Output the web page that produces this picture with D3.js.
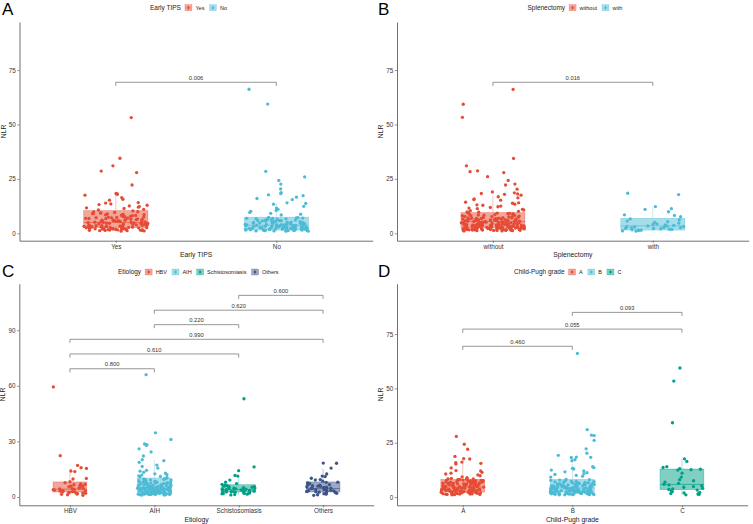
<!DOCTYPE html>
<html><head><meta charset="utf-8">
<script src="https://cdn.jsdelivr.net/npm/d3@7"></script>
<style>body{margin:0;background:#fff}svg{display:block;font-family:"Liberation Sans",Arial,Helvetica,sans-serif}</style>
</head><body><svg id="c" width="753" height="524"></svg>
<script>
// ---------------- DATA ----------------
const catsA = ["Yes", "No"];
const catsB = ["without", "with"];
const catsC = ["HBV", "AIH", "Schistosomiasis", "Others"];
const catsD = ["A", "B", "C"];

const yTicksA = [0, 25, 50, 75];
const yTicksB = [0, 25, 50, 75];
const yTicksC = [0, 30, 60, 90];
const yTicksD = [0, 25, 50, 75];

const nlrYes = [53.2,34.5,31.0,28.6,27.9,22.2,18.3,18.1,17.9,17.5,16.4,15.6,15.2,14.1,13.9,13.5,13.2,12.9,12.6,12.3,12.0,11.7,11.4,11.0,10.7,10.3,
9.8,4.2,2.1,6.7,3.3,8.9,1.5,5.4,2.8,7.6,3.9,1.2,9.3,4.8,2.5,6.1,3.6,1.8,8.2,5.0,2.2,7.1,4.5,1.4,9.6,3.1,5.7,2.9,6.4,1.9,8.5,4.1,2.4,7.3,3.5,1.1,5.2,9.0,2.7,6.8,3.8,1.6,4.6,8.0,2.0,5.9,3.2,7.8,1.3,4.4,6.3,2.6,9.4,3.7,5.5,1.7,7.0,4.0,2.3,8.7,3.0,6.0,1.0,5.1,2.9,7.5,4.3,1.8,9.9,3.4,6.6,2.1,5.3,8.3,2.5,4.7,1.5,7.2,3.6,6.2,2.8,4.9,1.2,8.6,3.3,5.8,2.0,7.7,4.2,1.6,6.9,3.9,5.6,2.4,9.1,4.5,1.9,6.5,3.1,8.1,2.2,5.0,3.5,1.4,7.4,4.6,2.7,6.0];
const nlrNo = [66.2,59.4,28.5,25.9,24.3,22.6,20.4,18.7,18.2,17.7,17.3,16.6,16.0,15.5,14.0,13.7,13.4,12.4,11.6,11.0,10.5,10.1,9.6,9.2,8.8,8.4,
3.2,5.8,1.4,4.1,2.6,6.9,1.9,3.7,5.1,2.2,7.1,1.1,4.5,2.9,6.2,1.6,3.4,5.5,2.0,4.8,1.3,6.6,2.7,3.9,1.8,5.3,2.4,7.3,1.0,4.2,3.0,6.0,1.5,2.8,4.9,2.1,5.7,3.6,1.2,6.4,2.5,4.4,1.7,3.3,5.0,2.3,7.0,1.4,3.8,2.9,6.7,1.9,4.6,2.6,5.4,1.1,3.5,2.2,6.1,4.0,1.6,2.8,5.9,3.1,1.3,4.7,2.0,6.8,3.7,1.8,5.2,2.4,4.3,1.5,3.2,6.3,2.7,1.0,4.9,3.4,2.1,5.6,1.7,3.9,2.5,7.2,4.1,1.2,3.0,5.0,2.3,6.5,1.9,4.4,2.9,3.6,1.4,5.8,2.6,4.0];

const nlrWithout = [66.1,59.3,53.3,34.4,31.0,28.7,28.3,27.9,26.0,24.3,22.6,22.2,20.3,19.0,18.6,18.3,18.1,17.9,17.5,16.8,16.3,15.8,15.5,15.2,14.3,14.0,13.8,13.4,13.1,12.9,12.5,12.2,11.9,11.6,11.3,11.0,10.7,10.4,10.1,
9.7,4.3,2.2,6.8,3.4,8.8,1.6,5.5,2.9,7.7,3.8,1.3,9.2,4.9,2.6,6.2,3.7,1.9,8.3,5.1,2.3,7.2,4.6,1.5,9.5,3.2,5.8,3.0,6.5,2.0,8.4,4.2,2.5,7.4,3.6,1.2,5.3,8.9,2.8,6.9,3.9,1.7,4.7,8.1,2.1,6.0,3.3,7.9,1.4,4.5,6.4,2.7,9.3,3.8,5.6,1.8,7.1,4.1,2.4,8.6,3.1,6.1,1.1,5.2,3.0,7.6,4.4,1.9,9.8,3.5,6.7,2.2,5.4,8.2,2.6,4.8,1.6,7.3,3.7,6.3,2.9,5.0,1.3,8.7,3.4,5.9,2.1,7.8,4.3,1.7,7.0,4.0,5.7,2.5,9.0,4.6,2.0,6.6,3.2,8.0,2.3,5.1,3.6,1.5,7.5,4.7,2.8,6.1,
3.3,5.9,1.5,4.2,2.7,6.8,2.0,3.8,5.2,2.3,7.0,1.2,4.6,3.0,6.3,1.7,3.5,5.6,2.1,4.9,1.4,6.5,2.8,4.0,1.9,5.4,2.5,1.1,4.3,3.1,6.0,1.6,2.9,4.8,2.2,5.8,3.7,1.3,6.2,2.6,4.5,1.8,3.4,5.1,2.4,1.5,3.9,3.0,6.6,2.0,4.7,2.7,5.5,1.2,3.6,2.3,6.0,4.1,1.7,2.9,5.7,3.2,1.4,4.4];
const nlrWith = [18.4,17.8,12.3,11.3,11.0,9.9,8.5,8.2,7.6,6.6,6.2,5.6,5.0,4.7,4.3,3.9,3.6,3.3,3.1,2.9,2.7,2.5,2.3,2.1,1.9,1.8,1.6,1.4,1.3,1.1,1.0,2.2,3.4,4.1,5.3,1.5,2.6,3.0];

const nlrHBV = [59.4,22.3,17.0,15.8,15.4,14.0,13.7,10.0,9.7,8.2,7.7,7.1,6.6,6.3,5.8,5.5,5.1,4.8,4.5,4.3,4.1,3.9,3.7,3.5,3.3,3.1,2.9,2.8,2.6,2.4,2.2,2.0,1.8,1.6,1.4,1.2,0.9,5.9,3.4,2.5,6.8,4.6];
const nlrAIH = [66.0,34.6,31.0,28.6,28.2,27.8,26.0,24.3,22.1,20.1,19.6,18.7,17.2,16.5,15.6,14.4,13.9,13.3,12.8,12.5,12.1,11.8,11.4,11.1,10.8,10.5,
9.9,4.4,2.3,6.9,3.2,8.7,1.6,5.3,2.7,7.5,3.9,1.3,9.4,4.7,2.4,6.0,3.5,1.9,8.3,5.2,2.1,7.2,4.3,1.5,9.7,3.0,5.6,2.8,6.5,1.8,8.6,4.0,2.5,7.4,3.6,1.2,5.1,9.1,2.6,6.7,3.8,1.7,4.6,8.1,2.0,5.8,3.3,7.9,1.4,4.5,6.2,2.9,9.5,3.7,5.4,1.6,7.1,4.1,2.2,8.8,3.1,6.1,1.1,5.0,2.8,7.6,4.2,1.9,9.9,3.4,6.6,2.2,5.5,8.4,2.4,4.8,1.5,7.3,3.5,6.3,2.7,4.9,1.3,8.5,3.2,5.7,2.1,7.8,4.4,1.7,6.8,3.9,5.9,2.5,9.2,4.6,1.8,6.4,3.0,8.0,2.3,5.2,3.6,1.4,7.5,4.7,2.6,6.0,3.3,1.0,4.3,2.9,5.3,1.6,3.8,2.0,4.0,3.1,1.2,2.7,4.5,3.4,2.3,5.0,1.9,3.7,2.5,4.2];
const nlrSchisto = [53.0,16.2,14.2,11.6,11.3,9.1,8.0,7.2,6.5,6.1,5.8,5.5,5.2,5.0,4.8,4.6,4.4,4.2,4.0,3.9,3.7,3.5,3.4,3.2,3.0,2.9,2.7,2.5,2.3,2.1,1.9,1.7,1.5,1.3,1.1,4.3,3.6,2.8,5.6,6.8,2.4,3.1,4.7,1.8,3.8,2.6,5.3];
const nlrOthers = [18.3,18.2,15.6,12.4,11.3,11.0,10.1,9.4,9.2,8.5,8.0,7.6,7.3,7.0,6.7,6.4,6.1,5.8,5.5,5.3,5.0,4.8,4.6,4.4,4.2,4.0,3.8,3.6,3.4,3.2,3.0,2.8,2.6,2.4,2.2,2.0,1.8,1.5,1.2,0.9,6.9,5.1,3.9,2.9,4.7,7.9,3.3,5.7];

const nlrGradeA = [27.9,24.3,22.0,18.7,17.7,17.5,16.1,15.8,15.5,15.2,13.4,12.2,12.0,11.4,11.0,10.6,10.2,9.8,9.3,8.9,
4.2,2.1,6.7,3.3,7.9,1.5,5.4,2.8,7.6,3.9,1.2,8.3,4.8,2.5,6.1,3.6,1.8,7.2,5.0,2.2,7.1,4.5,1.4,8.6,3.1,5.7,2.9,6.4,1.9,8.0,4.1,2.4,7.3,3.5,1.1,5.2,8.4,2.7,6.8,3.8,1.6,4.6,7.7,2.0,5.9,3.2,7.8,1.3,4.4,6.3,2.6,7.5,3.7,5.5,1.7,7.0,4.0,2.3,8.2,3.0,6.0,1.0,5.1,2.9,7.4,4.3,1.8,6.6,3.4,6.9,2.1,5.3,8.1,2.5,4.7,1.5,7.2,3.6,6.2,2.8,4.9,1.2,5.8,3.3,5.8,2.0,7.7,4.2,1.6,6.9,3.9,5.6,2.4,6.5,4.5,1.9,6.5,3.1,8.5,2.2,5.0,3.5,1.4,7.4,4.6,2.7,6.0,4.8,3.0,5.4];
const nlrGradeB = [66.1,31.0,28.5,28.3,26.1,22.2,20.2,19.2,18.4,18.3,18.2,17.2,16.7,14.0,13.5,13.2,12.9,12.4,12.0,11.6,11.2,10.8,10.4,10.0,9.6,9.2,
3.2,5.8,1.4,4.1,2.6,6.9,1.9,3.7,5.1,2.2,7.1,1.1,4.5,2.9,6.2,1.6,3.4,5.5,2.0,4.8,1.3,6.6,2.7,3.9,1.8,5.3,2.4,7.3,1.0,4.2,3.0,6.0,1.5,2.8,4.9,2.1,5.7,3.6,1.2,6.4,2.5,4.4,1.7,3.3,5.0,2.3,7.0,1.4,3.8,2.9,6.7,1.9,4.6,2.6,5.4,1.1,3.5,2.2,6.1,4.0,1.6,2.8,5.9,3.1,1.3,4.7,2.0,6.8,3.7,1.8,5.2,2.4,4.3,1.5,3.2,6.3,2.7,1.0,4.9,3.4,2.1,5.6,1.7,3.9,2.5,7.2,4.1,1.2,3.0,5.0,2.3,6.5,1.9,4.4,2.9,3.6,1.4,5.8,2.6,4.0,7.8,8.1,3.3,5.3,2.2,4.6,7.5,3.8,1.6,6.0,2.8,4.2,8.0,3.5,1.8,5.1,2.5,7.7,4.8,3.0];
const nlrGradeC = [59.4,53.4,34.2,17.6,16.4,14.0,13.6,13.1,12.8,12.6,12.4,11.0,9.2,8.0,7.5,6.9,6.3,5.9,5.6,5.2,4.8,4.5,4.1,3.8,3.5,3.2,2.8,2.5,2.1,1.9,1.6,1.4,1.2,1.0];

// box statistics [lower whisker, q1, median, q3, upper whisker]
const boxA = [[0.8, 2.6, 5.0, 10.4, 18.4], [0.8, 1.5, 3.7, 7.4, 13.8]];
const boxB = [[0.8, 2.6, 5.4, 9.5, 17.0], [0.8, 1.5, 3.4, 6.9, 12.3]];
const boxC = [[0.9, 2.7, 4.2, 8.1, 15.3], [0.9, 2.3, 4.5, 10.2, 19.8], [1.0, 2.7, 4.0, 6.6, 11.7], [0.9, 2.7, 4.5, 8.1, 15.3]];
const boxD = [[0.9, 2.3, 4.6, 8.1, 17.3], [0.9, 2.3, 4.2, 8.1, 15.3], [1.0, 3.4, 5.8, 12.9, 17.6]];

// comparison brackets [group i, group j, y value], with p-value labels
const bracketsA = [[0, 1, 69.4]];           const pLabelsA = ["0.006"];
const bracketsB = [[0, 1, 69.4]];           const pLabelsB = ["0.016"];
const bracketsC = [[0, 1, 69.2], [0, 2, 77.2], [0, 3, 85.1], [1, 2, 93.0], [1, 3, 100.8], [2, 3, 108.8]];
const pLabelsC = ["0.800", "0.610", "0.990", "0.220", "0.620", "0.600"];
const bracketsD = [[0, 1, 69.4], [0, 2, 77.3], [1, 2, 85.0]];
const pLabelsD = ["0.460", "0.055", "0.093"];

const palette = ["#E64B35", "#4DBBD5", "#00A087", "#3C5488"];

// ---------------- LAYOUT ----------------
const panels = [
  {letter: "A", lx: 2, ly: 15, x0: 19.5, x1: 372.7, yTop: 22, yBot: 240.7, ydom: [-3.4, 97.1], ticks: yTicksA,
   cats: catsA, groups: [nlrYes, nlrNo], box: boxA, br: bracketsA, pl: pLabelsA, title: "Early TIPS", legX: 150, legY: 7.7},
  {letter: "B", lx: 378, ly: 15, x0: 397, x1: 748.7, yTop: 22, yBot: 240.7, ydom: [-3.4, 97.1], ticks: yTicksB,
   cats: catsB, groups: [nlrWithout, nlrWith], box: boxB, br: bracketsB, pl: pLabelsB, title: "Splenectomy", legX: 527.5, legY: 7.7},
  {letter: "C", lx: 2, ly: 277, x0: 19.3, x1: 373.7, yTop: 283.7, yBot: 505.3, ydom: [-4.5, 115.1], ticks: yTicksC,
   cats: catsC, groups: [nlrHBV, nlrAIH, nlrSchisto, nlrOthers], box: boxC, br: bracketsC, pl: pLabelsC, title: "Etiology", legX: 118, legY: 272},
  {letter: "D", lx: 378, ly: 277, x0: 397, x1: 747.7, yTop: 283.7, yBot: 505.3, ydom: [-3.8, 98.2], ticks: yTicksD,
   cats: catsD, groups: [nlrGradeA, nlrGradeB, nlrGradeC], box: boxD, br: bracketsD, pl: pLabelsD, title: "Child-Pugh grade", legX: 514, legY: 272}
];

const svg = d3.select("#c");
const axisCol = "#4d4d4d";
// deterministic hash used only for the horizontal jitter of points
const jit = (k, i) => { const s = Math.sin((k + 1) * 12.9898 + (i + 1) * 78.233) * 43758.5453; return s - Math.floor(s); };

panels.forEach((p, pi) => {
  const g = svg.append("g");
  const n = p.cats.length;
  const x = d3.scaleLinear().domain([0.4, n + 0.6]).range([p.x0, p.x1]);
  const y = d3.scaleLinear().domain(p.ydom).range([p.yBot, p.yTop]);

  g.append("text").attr("x", p.lx).attr("y", p.ly).attr("font-size", 17).attr("fill", "#000").text(p.letter);

  const bw = 0.4;
  p.box.forEach((b, i) => {
    const c = palette[i], cx = x(i + 1), xl = x(i + 1 - bw / 2), xr = x(i + 1 + bw / 2);
    g.append("line").attr("x1", cx).attr("x2", cx).attr("y1", y(b[3])).attr("y2", y(b[4]))
      .attr("stroke", c).attr("stroke-opacity", 0.55).attr("stroke-width", 0.6);
    g.append("line").attr("x1", cx).attr("x2", cx).attr("y1", y(b[0])).attr("y2", y(b[1]))
      .attr("stroke", c).attr("stroke-opacity", 0.55).attr("stroke-width", 0.6);
    g.append("rect").attr("x", xl).attr("width", xr - xl).attr("y", y(b[3])).attr("height", y(b[1]) - y(b[3]))
      .attr("fill", c).attr("fill-opacity", 0.5).attr("stroke", c).attr("stroke-opacity", 0.55).attr("stroke-width", 0.6);
    g.append("line").attr("x1", xl).attr("x2", xr).attr("y1", y(b[2])).attr("y2", y(b[2]))
      .attr("stroke", c).attr("stroke-opacity", 0.8).attr("stroke-width", 0.8);
  });

  p.groups.forEach((vals, i) => {
    const c = palette[i];
    g.append("g").selectAll("circle").data(vals).join("circle")
      .attr("cx", (d, k) => x(i + 1 + (jit(k, i + pi * 5) - 0.5) * bw))
      .attr("cy", d => y(d))
      .attr("r", 1.65)
      .attr("fill", c);
  });

  const ay = g.append("g").attr("transform", `translate(${p.x0},0)`)
    .call(d3.axisLeft(y).tickValues(p.ticks).tickSize(2.2).tickSizeOuter(0).tickPadding(1.5).tickFormat(d3.format("d")));
  const ax = g.append("g").attr("transform", `translate(0,${p.yBot})`)
    .call(d3.axisBottom(x).tickValues(d3.range(1, n + 1)).tickSize(2.2).tickSizeOuter(0).tickPadding(1.5).tickFormat(d => p.cats[d - 1]));
  [ax, ay].forEach(a => {
    a.select(".domain").attr("stroke", axisCol).attr("stroke-width", 0.8);
    a.selectAll(".tick line").attr("stroke", axisCol).attr("stroke-width", 0.6);
    a.selectAll(".tick text").attr("fill", "#333").attr("font-size", 6.3).attr("font-family", "Liberation Sans, Arial, sans-serif");
  });

  g.append("text").attr("x", (p.x0 + p.x1) / 2).attr("y", p.yBot + 16.5).attr("text-anchor", "middle")
    .attr("font-size", 6.8).attr("fill", "#222").text(p.title);
  g.append("text").attr("transform", `translate(${p.x0 - 14},${(p.yTop + p.yBot) / 2}) rotate(-90)`)
    .attr("text-anchor", "middle").attr("font-size", 6.8).attr("fill", "#222").text("NLR");

  const tip = 3.6;
  p.br.forEach((b, k) => {
    const xa = x(b[0] + 1), xb = x(b[1] + 1), yy = y(b[2]);
    g.append("path").attr("d", `M${xa},${yy + tip}V${yy}H${xb}V${yy + tip}`)
      .attr("fill", "none").attr("stroke", "#6b6b6b").attr("stroke-width", 0.7);
    g.append("text").attr("x", (xa + xb) / 2).attr("y", yy - 2.4).attr("text-anchor", "middle")
      .attr("font-size", 5.8).attr("fill", "#333").text(p.pl[k]);
  });

  const lg = g.append("g").attr("transform", `translate(${p.legX},${p.legY})`);
  let cx = 0;
  const t = lg.append("text").attr("x", 0).attr("y", 2.3).attr("font-size", 6.5).attr("fill", "#222").text(p.title);
  cx += t.node().getComputedTextLength() + 4;
  p.cats.forEach((cat, i) => {
    const c = palette[i];
    lg.append("rect").attr("x", cx).attr("y", -3).attr("width", 7).attr("height", 6)
      .attr("fill", c).attr("fill-opacity", 0.5).attr("stroke", c).attr("stroke-opacity", 0.5).attr("stroke-width", 0.5);
    lg.append("line").attr("x1", cx + 3.5).attr("x2", cx + 3.5).attr("y1", -3).attr("y2", 3).attr("stroke", c).attr("stroke-opacity", 0.5).attr("stroke-width", 0.5);
    lg.append("circle").attr("cx", cx + 3.5).attr("cy", 0).attr("r", 1.3).attr("fill", c);
    cx += 7 + 3.5;
    const lt = lg.append("text").attr("x", cx).attr("y", 2).attr("font-size", 5.5).attr("fill", "#222").text(cat);
    cx += lt.node().getComputedTextLength() + 5;
  });
});
</script></body></html>
